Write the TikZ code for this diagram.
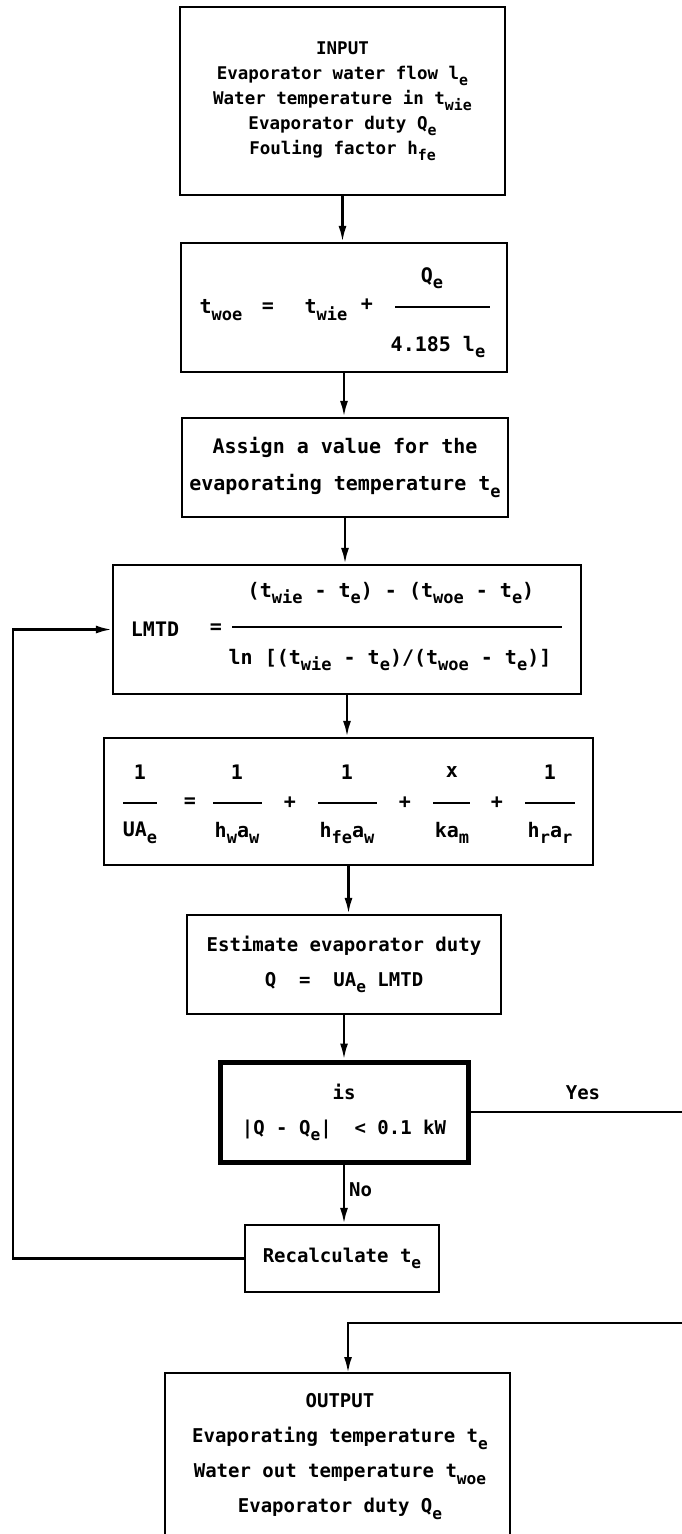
\documentclass[tikz,border=0pt]{standalone}
\usepackage{fontspec}
\usepackage{graphicx}
\setmainfont{DejaVu Sans Mono}
\usetikzlibrary{arrows.meta}
\newcommand\dn[1]{\raisebox{-0.6ex}{\scalebox{0.85}{#1}}}
\begin{document}
\begin{tikzpicture}[x=1pt,y=-1pt,
  every node/.style={font=\bfseries\fontsize{19}{35}\selectfont, inner sep=0pt},
  box/.style={draw, line width=2.4pt, align=center},
  thickbox/.style={draw, line width=5pt, align=center},
  arr/.style={-{Latex[length=16pt,width=8pt]}, line width=2.4pt},
  bar/.style={line width=2pt},
  small/.style={font=\bfseries\fontsize{17.5}{25}\selectfont},
  big/.style={font=\bfseries\fontsize{20}{37}\selectfont},
  frm/.style={font=\bfseries\fontsize{20}{24}\selectfont}
]
\useasboundingbox (0,0) rectangle (682,1534);
\clip (0,0) rectangle (682,1534);
\fill[white] (0,0) rectangle (682,1534);

% boxes
\node[box, small, minimum width=325pt, minimum height=188pt] (in) at (342.5,101)
  {INPUT\\Evaporator water flow l\dn{e}\\Water temperature in t\dn{wie}\\Evaporator duty Q\dn{e}\\Fouling factor h\dn{fe}};
\node[box, minimum width=326pt, minimum height=129pt] (b2) at (344,307.5) {};
\node[box, big, minimum width=326pt, minimum height=99pt] (b3) at (345,467.5)
  {Assign a value for the\\evaporating temperature t\dn{e}};
\node[box, minimum width=468pt, minimum height=129pt] (b4) at (347,629.5) {};
\node[box, minimum width=489pt, minimum height=127pt] (b5) at (348.5,801.5) {};
\node[box, minimum width=314pt, minimum height=99pt] (b6) at (344,964.5)
  {Estimate evaporator duty\\Q\ \ =\ \ UA\dn{e} LMTD};
\node[thickbox, minimum width=248pt, minimum height=100pt] (dec) at (344,1112)
  {is\\|Q - Q\dn{e}|\ \ < 0.1 kW};
\node[box, minimum width=194pt, minimum height=67pt] (rec) at (342,1258.5)
  {Recalculate t\dn{e}};
\node[box, minimum width=345pt, minimum height=187pt] (out) at (337.5,1466.5) {};
\node[align=center] (outtxt) at (340,1456.5)
  {OUTPUT\\Evaporating temperature t\dn{e}\\Water out temperature t\dn{woe}\\Evaporator duty Q\dn{e}};

% box 2 formula
\node[frm] (t1) at (221,310) {t\dn{woe}};
\node[frm] (eq1) at (268,308) {=};
\node[frm] (t2) at (326,310) {t\dn{wie}};
\node[frm] (pl1) at (367,305) {+};
\node[frm] (q1) at (432,278) {Q\dn{e}};
\node[frm] (d1) at (438,347) {4.185 l\dn{e}};
\draw[bar] (395,307) -- (490,307);

% box 4 formula
\node[frm] (lm) at (155,629) {LMTD};
\node[frm] (eq2) at (216,629) {=};
\node[frm] (n2) at (391,593) {(t\dn{wie} - t\dn{e}) - (t\dn{woe} - t\dn{e})};
\node[frm] (d2) at (390,660) {ln [(t\dn{wie} - t\dn{e})/(t\dn{woe} - t\dn{e})]};
\draw[bar] (232,627) -- (562,627);

% box 5 formula
\node[frm] (f1n) at (140,772) {1};
\node[frm] (f1d) at (140,833) {UA\dn{e}};
\draw[bar] (123,803) -- (157,803);
\node[frm] (eq3) at (190,803) {=};
\node[frm] (f2n) at (237,772) {1};
\node[frm] (f2d) at (237,833) {h\dn{w}a\dn{w}};
\draw[bar] (213,803) -- (262,803);
\node[frm] (p2) at (290,803) {+};
\node[frm] (f3n) at (347,772) {1};
\node[frm] (f3d) at (347,833) {h\dn{fe}a\dn{w}};
\draw[bar] (318,803) -- (377,803);
\node[frm] (p3) at (405,803) {+};
\node[frm] (f4n) at (452,772) {x};
\node[frm] (f4d) at (452,833) {ka\dn{m}};
\draw[bar] (433,803) -- (470,803);
\node[frm] (p4) at (497,803) {+};
\node[frm] (f5n) at (550,772) {1};
\node[frm] (f5d) at (550,833) {h\dn{r}a\dn{r}};
\draw[bar] (525,803) -- (575,803);

% connectors
\draw[arr] (in.south) -- (in.south |- b2.north);
\draw[arr] (b2.south) -- (b2.south |- b3.north);
\draw[arr] (b3.south) -- (b3.south |- b4.north);
\draw[arr] (b4.south) -- (b4.south |- b5.north);
\draw[arr] (b5.south) -- (b5.south |- b6.north);
\draw[arr] (b6.south) -- (b6.south |- dec.north);
\draw[arr] (dec.south) -- node[right, xshift=4pt, pos=0.42] (nolbl) {No} (dec.south |- rec.north);
\coordinate (lft) at (13,1258.5);
\draw[arr] (rec.west) -- (lft) |- (b4.west);
\coordinate (r1) at (692,1112);
\coordinate (r2) at (692,1323);
\coordinate (oin) at (348,1373);
\draw[arr] (dec.east) -- (r1) -- (r2) -| (oin);
\node (yes) at (583,1093) {Yes};
\end{tikzpicture}
\end{document}
